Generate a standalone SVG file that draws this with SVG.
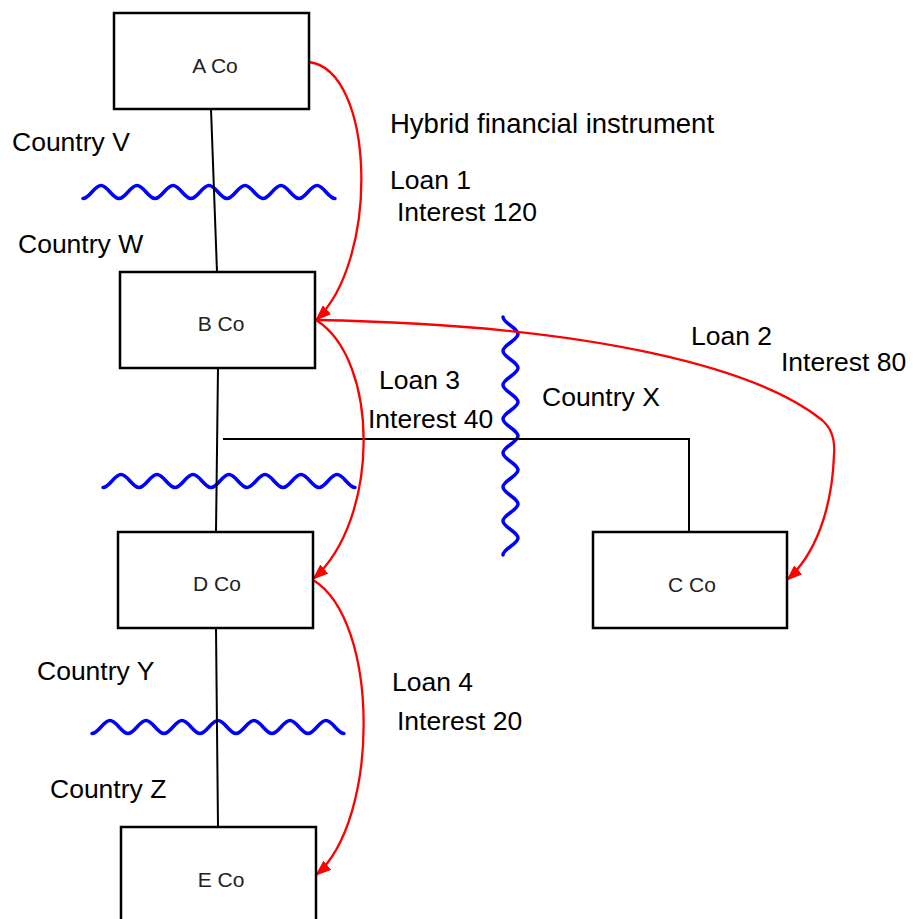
<svg xmlns="http://www.w3.org/2000/svg" xmlns:xlink="http://www.w3.org/1999/xlink" width="913" height="919" viewBox="0 0 913 919">
<style>
.box{fill:#fff;stroke:#000;stroke-width:2.5}
.bt{font-family:"Liberation Sans",Arial,sans-serif;font-size:21px;fill:#222;text-anchor:middle}
.lb{font-family:"Liberation Sans",Arial,sans-serif;font-size:26.5px;fill:#000}
.ln{fill:none;stroke:#000;stroke-width:2}
.rd{fill:none;stroke:#ff0000;stroke-width:2.3;marker-end:url(#ah)}
.wv{fill:none;stroke:#0000ff;stroke-width:3.5;stroke-linecap:round}
</style>
<defs>
<marker id="ah" markerWidth="16" markerHeight="12" refX="15" refY="6" orient="auto" markerUnits="userSpaceOnUse"><path d="M0,0 L16,6 L0,12 z" fill="#ff0000"/></marker>
<path id="wave" d="M0,6.5 c6.5,0 11.5,-13 18,-13 s11.5,13 18,13 s11.5,-13 18,-13 s11.5,13 18,13 s11.5,-13 18,-13 s11.5,13 18,13 s11.5,-13 18,-13 s11.5,13 18,13 s11.5,-13 18,-13 s11.5,13 18,13 s11.5,-13 18,-13 s11.5,13 18,13 s11.5,-13 18,-13 s11.5,13 18,13"/>
</defs>
<rect width="913" height="919" fill="#fff"/>
<g id="borders">
<use xlink:href="#wave" href="#wave" class="wv" transform="translate(83,192)"/>
<use xlink:href="#wave" href="#wave" class="wv" transform="translate(103,481)"/>
<use xlink:href="#wave" href="#wave" class="wv" transform="translate(92,727)"/>
<path class="wv" d="M503,317 c0,6.2 15,10.8 15,17 s-15,10.8 -15,17 s15,10.8 15,17 s-15,10.8 -15,17 s15,10.8 15,17 s-15,10.8 -15,17 s15,10.8 15,17 s-15,10.8 -15,17 s15,10.8 15,17 s-15,10.8 -15,17 s15,10.8 15,17 s-15,10.8 -15,17 s15,10.8 15,17 s-15,10.8 -15,17"/>
</g>
<g id="connectors">
<path class="ln" d="M211,109 L217,272"/>
<path class="ln" d="M218,368 L216,532"/>
<path class="ln" d="M216,628 L218,827"/>
<path class="ln" d="M223,439 H689 V532"/>
<path class="rd" d="M309,62 C375,70 380,260 316,320"/>
<path class="rd" d="M316,320 C600,325 760,370 822,420 Q836,432 834,455 C832,510 815,555 787,580"/>
<path class="rd" d="M316,320 C380,360 380,520 313,579"/>
<path class="rd" d="M313,580 C380,620 380,820 316,875"/>
</g>
<g id="nodeA"><rect class="box" x="114" y="13" width="195" height="96"/><text class="bt" x="215" y="73">A Co</text></g>
<g id="nodeB"><rect class="box" x="120" y="272" width="195" height="96"/><text class="bt" x="221" y="331">B Co</text></g>
<g id="nodeD"><rect class="box" x="118" y="532" width="195" height="96"/><text class="bt" x="217" y="591">D Co</text></g>
<g id="nodeC"><rect class="box" x="593" y="532" width="194" height="96"/><text class="bt" x="692" y="592">C Co</text></g>
<g id="nodeE"><rect class="box" x="121" y="827" width="195" height="110"/><text class="bt" x="221" y="887">E Co</text></g>
<g id="labels">
<text class="lb" x="390" y="133" style="font-size:27.5px">Hybrid financial instrument</text>
<text class="lb" x="12" y="151">Country V</text>
<text class="lb" x="390" y="189">Loan 1</text>
<text class="lb" x="397" y="221">Interest 120</text>
<text class="lb" x="18" y="253">Country W</text>
<text class="lb" x="691" y="345">Loan 2</text>
<text class="lb" x="781" y="371">Interest 80</text>
<text class="lb" x="379" y="389">Loan 3</text>
<text class="lb" x="368" y="428">Interest 40</text>
<text class="lb" x="542" y="406">Country X</text>
<text class="lb" x="37" y="680">Country Y</text>
<text class="lb" x="392" y="691">Loan 4</text>
<text class="lb" x="397" y="730">Interest 20</text>
<text class="lb" x="50" y="798">Country Z</text>
</g>
</svg>
